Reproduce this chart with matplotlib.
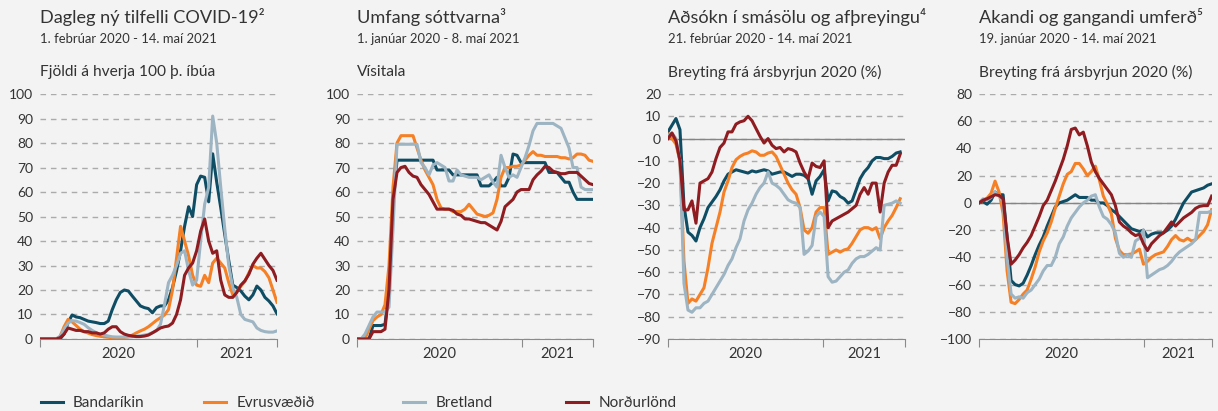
import numpy as np
import matplotlib
matplotlib.use("Agg")
import matplotlib.pyplot as plt
from matplotlib.lines import Line2D

# series names / colours
names = ["Bandaríkin", "Evrusvæðið", "Bretland", "Norðurlönd"]
colors = ["#0e4d64", "#f58025", "#9db4c3", "#8f1c20"]

# 1) Dagleg ný tilfelli COVID-19 (per 100 þ. íbúa), sampled evenly across the axis
covid_us = [0, 0, 0, 0, 0, 0, 2, 6.7, 9.8, 9, 8.7, 8, 7.3, 7, 6.7, 6.3, 6.3, 7.3, 12, 16,
            19, 20, 19.6, 17.5, 15.5, 13.5, 12.8, 12.4, 10.7, 12.8, 13.5, 13.5, 16, 21, 27.8, 36, 46, 54, 50, 63,
            66.5, 66, 56, 75.6, 64, 53.6, 42.7, 32, 22, 21, 19.6, 17.5, 16, 18, 21.6, 20, 17, 15.5, 13.5, 10.3]
covid_ez = [0, 0, 0, 0, 0, 1, 5, 8, 7, 5.5, 4, 3, 2.4, 1.8, 1.4, 1.1, 0.9, 0.7, 0.5, 0.5,
            0.5, 0.6, 0.9, 1.6, 2.5, 3.3, 4, 5, 6.3, 7.6, 8.7, 9.8, 12, 20, 33, 46, 40, 34, 26, 22,
            21.5, 26, 23, 31, 33, 31, 29, 23, 18, 19.5, 21.5, 23.5, 27, 30, 29, 29, 27.5, 25, 20, 15]
covid_uk = [0, 0, 0, 0, 0, 1, 4, 6.5, 7.5, 7.3, 6.7, 6, 4.6, 3.5, 2.6, 1.9, 1.6, 1.2, 0.9, 0.8,
            0.8, 0.8, 0.8, 0.9, 1.2, 1.3, 1.6, 1.9, 2.6, 3.3, 6, 14, 23, 26, 30, 35, 36, 28, 22, 24,
            40, 55, 62, 91, 80, 62, 45, 30, 21, 17, 10, 8, 7.5, 7, 4.5, 3.5, 3, 2.8, 2.8, 3.3]
covid_no = [0, 0, 0, 0, 0, 0.5, 2, 4.5, 4, 3.5, 3.5, 3, 3, 2.5, 2.5, 2, 2.5, 4, 5, 5,
            3, 2, 1.5, 1.2, 1, 1, 1.2, 1.6, 2.5, 3.5, 4.5, 5, 5.3, 6.5, 10, 16, 26, 29, 31, 36,
            44, 49, 40, 35, 36, 24, 18, 17, 17, 19, 22, 23.7, 26.4, 30.5, 33, 35, 32.5, 30, 28, 24]

# 2) Umfang sóttvarna (vísitala)
meas_us = [0, 0, 0, 0, 5.5, 5.5, 5.5, 6, 20, 55, 73, 73, 73, 73, 73, 73, 73, 73, 73, 73,
           69, 69, 69, 69, 67, 67, 67, 67, 67, 67, 67, 62.5, 62.5, 62.5, 64, 66, 62.5, 62.5, 66, 75.5,
           75, 72, 72, 72, 72, 72, 72, 72, 68, 68, 68, 66, 64, 64, 60, 57, 57, 57, 57, 57]
meas_ez = [0, 0, 0, 4, 7.5, 9, 10, 14, 30, 62, 80, 83, 83, 83, 83, 78, 73, 69, 66, 63,
           57, 53.5, 53, 53, 52, 52, 52, 53, 55, 53, 51, 50.5, 50, 50.5, 51.5, 57, 66, 70, 70, 70.5,
           70.5, 71, 73, 75, 76.5, 75, 75, 74.5, 74.5, 74.5, 74.5, 74, 74, 73.5, 74, 75.5, 75.5, 75, 73, 72.5]
meas_uk = [0, 0, 2, 5.5, 9, 11, 11, 11, 13, 45, 79.5, 79.5, 79.5, 79.5, 79.5, 79.5, 72, 70, 67, 71,
           72, 71, 70, 64.5, 64.5, 69, 67, 66.5, 66, 66, 66, 65, 66, 67, 64, 62, 75, 70, 66, 67,
           66, 70, 74, 79, 85, 88, 88, 88, 88, 88, 87, 86, 82, 78, 70, 70, 62, 61, 61, 61]
meas_no = [0, 0, 0, 0, 3, 3, 3, 4, 20, 57, 68, 70, 70.5, 68, 66.5, 66, 63, 61, 59, 56,
           53, 53, 53, 53, 52.5, 51, 50.5, 49, 49, 48.5, 48, 47.5, 47.5, 46.5, 45.5, 44.5, 48, 54, 55.5, 57,
           60, 61, 61, 61, 65, 67, 68.5, 70.5, 70, 68.5, 68, 67.5, 67.5, 68, 68, 68, 66.5, 65, 63.5, 63]

# 3) Aðsókn í smásölu og afþreyingu (% frá ársbyrjun 2020)
retail_us = [3, 6, 9, 4, -30, -42, -43.5, -46, -40, -36, -31, -28.5, -26, -23, -19, -16, -15, -14, -14.5, -15,
             -15.5, -14.5, -15, -14.5, -14, -14.5, -16, -15.5, -15, -15, -16, -17, -16, -16, -16.5, -18, -25, -19, -17, -14,
             -28, -23.5, -24, -26, -27, -29, -28, -23, -18, -15, -13, -10, -8.5, -8.5, -9, -9, -8, -6.5, -6]
retail_ez = [2, 0, -2.5, -10, -55, -74, -72, -73, -70, -67, -58, -47, -40, -33, -24, -19, -13, -9.5, -8, -7,
             -6.5, -5.5, -6, -7.5, -7.5, -6.5, -6, -8, -12, -16, -20, -23, -25, -31, -41, -42.5, -40, -33, -31, -31,
             -52, -51, -50, -51, -50, -49.5, -47, -44, -41, -40, -40, -41, -40, -45, -40, -37, -34.5, -31, -27]
retail_uk = [1, 2.5, 0, -10, -65, -77, -78, -76, -76, -74, -73, -70, -67, -64, -61, -57, -54, -49, -45, -37,
             -32, -29, -25, -22, -20, -15, -20, -21, -22.5, -25, -27.5, -28.5, -29, -31, -52, -50.5, -48, -35, -33, -35,
             -62, -64.5, -64, -62, -60, -59, -56, -54, -53, -53, -52, -50.5, -49, -50, -30, -29.5, -29, -28, -29]
retail_no = [0, 2.5, -1, -10, -32, -32, -28, -38, -20, -19, -18, -15, -9, -4, -2, 3, 3, 6.5, 7.5, 8,
             10, 8, 4.5, 1, -2, 0, -3, -4.5, -4, -6, -4.5, -5, -6, -11, -15, -18, -11, -12.5, -13, -10,
             -40, -37, -36, -35, -34, -33, -31.5, -30, -25, -22, -25, -20, -20, -33, -20, -15, -12, -12, -7]

# 4) Akandi og gangandi umferð (% frá ársbyrjun 2020)
traffic_us = [0, 1, -1, 2, 8, 6, 6, -25, -57, -60, -61, -59, -53, -46, -38, -31, -25, -17, -10, -3,
              0, 1, 2, 4, 6, 4, 4, 4, 2, 2, 0, 0, -2, -5, -7, -10, -13, -16, -19, -20,
              -21, -20, -25, -23, -22, -22, -22, -20, -17, -12, -6, 0, 4, 8, 9, 10, 11, 13, 14]
traffic_ez = [0, 2, 3.5, 7, 16, 8, -8, -50, -73, -74, -71, -67, -64, -56, -47, -36, -28, -22, -14, -4,
              5, 14, 21, 23, 29, 29, 25, 20, 23, 27, 17, 5, -1, -8, -26, -35, -38, -38, -37.5, -36,
              -34, -45, -43, -40, -38, -37, -36, -32, -27, -24, -27, -28, -26, -28, -27, -24, -21, -16, -5]
traffic_uk = [0, 3, 2, 4, 8, 5, 1, -40, -67, -70, -69, -70, -66, -64, -60, -56, -50, -46, -46, -40,
              -30, -25, -17, -11, -7, -3, 0, 2, 5, 6, -3, -10, -12, -16, -22, -37, -40, -38, -40, -28,
              -26, -20, -55, -53, -51, -49, -48, -46, -43, -39, -36, -34, -32, -30, -27, -7, -7, -7, -6]
traffic_no = [0, 2, 3, 4.5, 6, 5.5, 3, -25, -45, -42, -38, -33, -29, -24, -17, -10, -2, 2, 9, 16,
              24, 32, 42, 54, 55, 50, 52, 42, 30, 23, 18, 14, 10, 6, -2, -14, -17, -19, -22, -24,
              -23, -30, -35, -30, -27, -24, -22, -18, -14, -17, -14, -11, -9, -7, -4, -2.5, -2, -2, 5]

panels = [
    dict(title="Dagleg ný tilfelli COVID-19²", sub="1. febrúar 2020 - 14. maí 2021",
         ylab="Fjöldi á hverja 100 þ. íbúa", data=[covid_us, covid_ez, covid_uk, covid_no],
         ylim=(0, 100), step=10, split=39, xmax=59, zero=False,
         pos=[0.0328, 0.1752, 0.1946, 0.596]),
    dict(title="Umfang sóttvarna³", sub="1. janúar 2020 - 8. maí 2021",
         ylab="Vísitala", data=[meas_us, meas_ez, meas_uk, meas_no],
         ylim=(0, 100), step=10, split=41.25, xmax=59, zero=False,
         pos=[0.2931, 0.1752, 0.1938, 0.596]),
    dict(title="Aðsókn í smásölu og afþreyingu⁴", sub="21. febrúar 2020 - 14. maí 2021",
         ylab="Breyting frá ársbyrjun 2020 (%)", data=[retail_us, retail_ez, retail_uk, retail_no],
         ylim=(-90, 20), step=10, split=38.8, xmax=59.2, zero=True,
         pos=[0.5484, 0.1752, 0.1946, 0.596]),
    dict(title="Akandi og gangandi umferð⁵", sub="19. janúar 2020 - 14. maí 2021",
         ylab="Breyting frá ársbyrjun 2020 (%)", data=[traffic_us, traffic_ez, traffic_uk, traffic_no],
         ylim=(-100, 80), step=20, split=41.2, xmax=58.1, zero=True,
         pos=[0.8038, 0.1752, 0.1913, 0.596]),
]

bg = "#f3f3f3"
txt = "#333333"
fam = ["Lato", "DejaVu Sans"]
plt.rcParams["font.family"] = fam

fig = plt.figure(figsize=(12.18, 4.11), dpi=100, facecolor=bg)

for p in panels:
    ax = fig.add_axes(p["pos"])
    ax.set_facecolor(bg)
    for vals, c in zip(p["data"], colors):
        ax.plot(np.arange(len(vals)), vals, color=c, lw=2.2, solid_joinstyle="round")
    ax.set_xlim(0, p["xmax"])
    ax.set_ylim(*p["ylim"])
    ax.set_yticks(np.arange(p["ylim"][0], p["ylim"][1] + 1, p["step"]))
    ax.yaxis.grid(True, linestyle=(0, (4, 3.5)), color="#ababab", lw=1)
    ax.set_axisbelow(True)
    if p["zero"]:
        ax.axhline(0, color="#858585", lw=1, zorder=1)
    for s in ["left", "right", "top"]:
        ax.spines[s].set_visible(False)
    ax.spines["bottom"].set_color("#8a8a8a")
    ax.set_xticks([0, p["split"], p["xmax"]])
    ax.set_xticklabels([])
    ax.set_xticks([p["split"] / 2, (p["split"] + p["xmax"]) / 2], minor=True)
    ax.set_xticklabels(["2020", "2021"], minor=True)
    ax.tick_params(axis="x", which="major", length=6, color="#8a8a8a", direction="out")
    ax.tick_params(axis="x", which="minor", length=0, pad=6, labelsize=10.5, labelcolor=txt)
    ax.tick_params(axis="y", length=0, pad=5, labelsize=10, labelcolor=txt)
    x0 = p["pos"][0]
    fig.text(x0, 0.958, p["title"], fontsize=13.1, color=txt, va="center", ha="left")
    fig.text(x0, 0.905, p["sub"], fontsize=9.4, color=txt, va="center", ha="left")
    fig.text(x0, 0.824, p["ylab"], fontsize=11.2, color=txt, va="center", ha="left")

# legend along the bottom, one entry at a time
leg_x = [0.0334, 0.1675, 0.3309, 0.4647]
for name, c, lx in zip(names, colors, leg_x):
    h = Line2D([], [], color=c, lw=2.2)
    fig.legend(handles=[h], labels=[name], loc="center left", bbox_to_anchor=(lx, 0.019),
               frameon=False, fontsize=11, handlelength=1.44, handletextpad=0.67,
               borderpad=0, borderaxespad=0, labelcolor=txt)

fig.savefig("out.png", dpi=100, facecolor=bg)
